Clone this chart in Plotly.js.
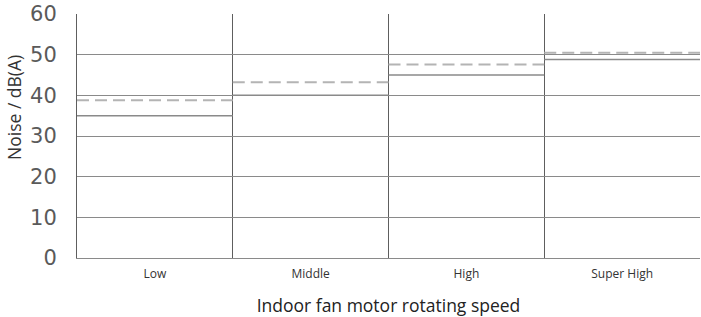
<!DOCTYPE html>
<html><head><meta charset="utf-8">
<script src="https://cdn.plot.ly/plotly-3.0.1.min.js"></script>
<style>html,body{margin:0;padding:0;background:#fff}#chart{width:701px;height:317px}</style>
</head><body><div id="chart"></div>
<script>
const categories = ["Low", "Middle", "High", "Super High"];
const solidValues = [35, 40, 45, 48.8];
const dashedValues = [38.8, 43.2, 47.6, 50.5];
const yTicks = [0, 10, 20, 30, 40, 50, 60];

function stepXY(vals) {
  const x = [], y = [];
  vals.forEach((v, i) => { x.push(i, i + 1, null); y.push(v, v, null); });
  return {x, y};
}
const s = stepXY(solidValues), d = stepXY(dashedValues);
const traces = [
  {x: s.x, y: s.y, type: 'scatter', mode: 'lines', line: {color: '#8a8a8a', width: 1.5}, hoverinfo: 'skip', showlegend: false},
  {x: d.x, y: d.y, type: 'scatter', mode: 'lines', line: {color: '#b4b4b4', width: 2, dash: '12px,6px'}, hoverinfo: 'skip', showlegend: false}
];
const boundaries = categories.map((c, i) => i).concat([categories.length]);
const layout = {
  width: 701, height: 317,
  margin: {l: 77, r: 1, t: 14, b: 59},
  paper_bgcolor: '#fff', plot_bgcolor: '#fff',
  showlegend: false,
  xaxis: {
    range: [0, categories.length], tickmode: 'array',
    tickvals: categories.map((c, i) => i + 0.5), ticktext: categories,
    showgrid: false, zeroline: false, ticks: '',
    showline: true, linecolor: '#8a8a8a', linewidth: 1,
    ticklabelstandoff: 5,
    tickfont: {family: 'Open Sans, sans-serif', size: 12, color: '#333'},
    title: {text: 'Indoor fan motor rotating speed', font: {family: 'Open Sans, sans-serif', size: 17.5, color: '#222'}, standoff: 20},
    minor: {tickmode: 'array', tickvals: boundaries, showgrid: true, gridcolor: '#5e5e5e', gridwidth: 1, ticks: ''}
  },
  yaxis: {
    range: [0, 60], tickmode: 'array', tickvals: yTicks,
    showgrid: true, gridcolor: '#8a8a8a', gridwidth: 1, zeroline: false,
    showline: true, linecolor: '#5e5e5e', linewidth: 1,
    ticks: '', ticklabelstandoff: 15,
    tickfont: {family: 'DejaVu Sans, sans-serif', size: 21, color: '#5a5a5a'}
  },
  annotations: [{
    text: 'Noise / dB(A)', textangle: -90, xref: 'paper', yref: 'paper',
    x: 0, xshift: -63, y: 0.615, xanchor: 'center', yanchor: 'middle', showarrow: false,
    font: {family: 'Open Sans, sans-serif', size: 17.5, color: '#333'}
  }]
};
Plotly.newPlot('chart', traces, layout, {staticPlot: true, displayModeBar: false});
</script></body></html>
